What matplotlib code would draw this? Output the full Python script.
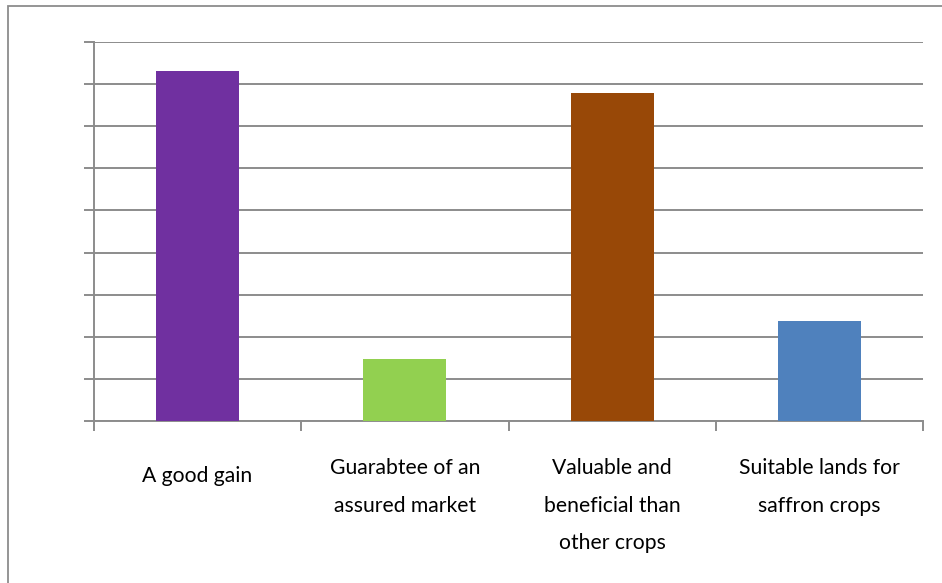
import matplotlib.pyplot as plt
import matplotlib.transforms as mtransforms
from matplotlib.patches import Rectangle

# datos
categorias = ["A good gain", "Guarabtee of an\nassured market",
              "Valuable and\nbeneficial than\nother crops",
              "Suitable lands for\nsaffron crops"]
valores = [8.3, 1.47, 7.8, 2.38]
colores = ["#7030A0", "#92D050", "#984807", "#4F81BD"]

plt.rcParams['font.family'] = ['Lato', 'DejaVu Sans']

fig = plt.figure(figsize=(9.42, 5.83), dpi=100)
ax = fig.add_axes([94 / 942, 1 - 421 / 583, (923 - 94) / 942, (421 - 42) / 583])

xs = range(len(categorias))
ax.bar(xs, valores, width=0.4, color=colores, zorder=3)

gris = "#8c8c8c"
ax.set_xlim(-0.5, len(categorias) - 0.5)
ax.set_ylim(0, 9)
ax.set_yticks(range(0, 10))
ax.set_yticklabels([])
ax.yaxis.grid(True, color=gris, linewidth=1.4, zorder=0)
ax.tick_params(axis='y', length=7, width=1.4, color=gris)

ax.set_xticks([i - 0.5 for i in range(len(categorias) + 1)])
ax.set_xticklabels([])
ax.tick_params(axis='x', length=7, width=1.4, color=gris)

# etiquetas de categoria (la de una sola linea va un poco mas abajo)
trans = mtransforms.blended_transform_factory(ax.transData, ax.transAxes)
for x, texto in zip(xs, categorias):
    baja = 37 if "\n" in texto else 45
    t = trans + mtransforms.ScaledTranslation(0, -baja / 100, fig.dpi_scale_trans)
    ax.text(x, 0, texto, transform=t, ha='center', va='top',
            fontsize=15.2, linespacing=2.1, clip_on=False)

for lado in ['top', 'right']:
    ax.spines[lado].set_visible(False)
for lado in ['left', 'bottom']:
    ax.spines[lado].set_color(gris)
    ax.spines[lado].set_linewidth(1.4)

# borde del area del grafico
fig.patches.append(Rectangle((8 / 942, -0.1), 1.2, 1 - 6 / 583 + 0.1,
                             transform=fig.transFigure, fill=False,
                             edgecolor="#8c8c8c", linewidth=1.3))

plt.savefig("out.png", dpi=100)
